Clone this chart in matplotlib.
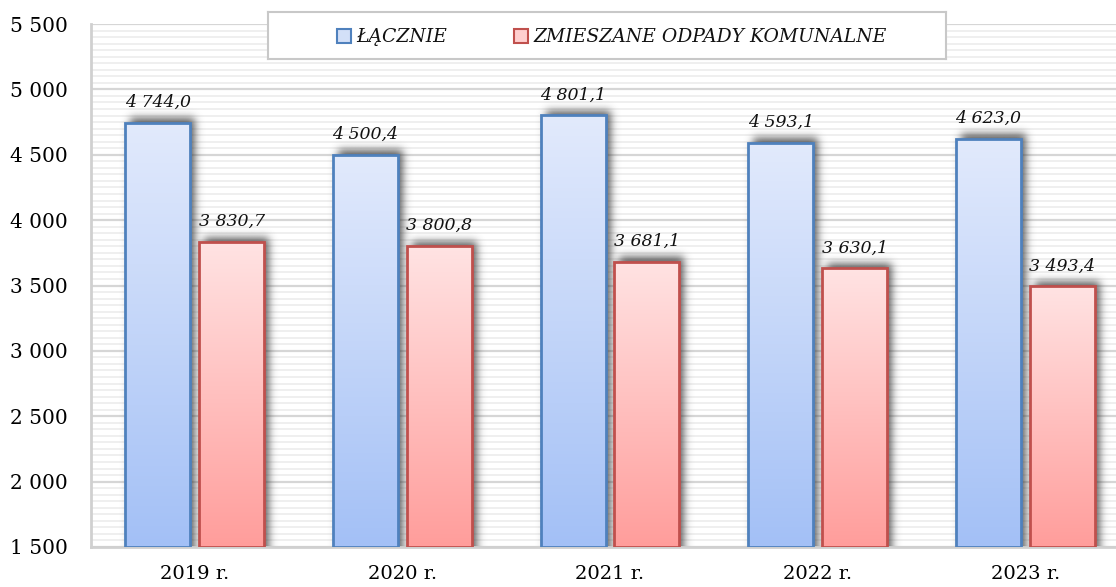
import math
import matplotlib
matplotlib.use('Agg')
import matplotlib.pyplot as plt
import numpy as np
from matplotlib.colors import LinearSegmentedColormap
from matplotlib.patches import Rectangle
from matplotlib.ticker import MultipleLocator

years = ['2019 r.', '2020 r.', '2021 r.', '2022 r.', '2023 r.']
total = [4744.0, 4500.4, 4801.1, 4593.1, 4623.0]
mixed = [3830.7, 3800.8, 3681.1, 3630.1, 3493.4]
series_names = ['ŁĄCZNIE', 'ZMIESZANE ODPADY KOMUNALNE']

y_min, y_max = 1500, 5500
bar_w = 0.313
offset = 0.178

styles = [
    {'top': '#e2eafc', 'bottom': '#a3c0f6', 'edge': '#4f81bd', 'box': '#d3e0f8'},
    {'top': '#ffe3e3', 'bottom': '#ff9d9b', 'edge': '#c0504d', 'box': '#ffcfcf'},
]


def fmt(v, dec=1):
    s = f'{v:,.{dec}f}'
    return s.replace(',', ' ').replace('.', ',')


erf = np.vectorize(math.erf)

fig = plt.figure(figsize=(11.16, 5.87), dpi=100)
ax = fig.add_axes([91 / 1116, 1 - 547 / 587, 1038 / 1116, 523 / 587])
serif = 'DejaVu Serif'

# size of one pixel in data units
px_x = 1 / 207.6
px_y = (y_max - y_min) / 523

x = np.arange(len(years))
for s, (vals, st) in enumerate(zip([total, mixed], styles)):
    cmap = LinearSegmentedColormap.from_list('g%d' % s, [st['bottom'], st['top']])
    grad = np.linspace(1, 0, 256).reshape(-1, 1)
    for i, v in enumerate(vals):
        cx = x[i] + (-offset if s == 0 else offset)
        x0, x1 = cx - bar_w / 2, cx + bar_w / 2

        # blurred drop shadow, shifted right and up
        sx0, sx1 = x0 + 5 * px_x, x1 + 5 * px_x
        stop = v + 5 * px_y
        pad = 22
        xs = np.linspace(sx0 - pad * px_x, sx1 + pad * px_x, 160)
        ys = np.linspace(y_min, stop + pad * px_y, 240)
        sig_x, sig_y = 6 * px_x, 6 * px_y
        fx = 0.5 * (erf((xs - sx0) / sig_x) - erf((xs - sx1) / sig_x))
        fy = 0.5 * (1 - erf((ys - stop) / sig_y))
        alpha = 0.8 * np.outer(fy[::-1], fx)
        rgba = np.zeros(alpha.shape + (4,))
        rgba[..., :3] = 0.2
        rgba[..., 3] = alpha
        ax.imshow(rgba, extent=[xs[0], xs[-1], y_min, ys[-1]], aspect='auto',
                  zorder=2, interpolation='bilinear')

        im = ax.imshow(grad, extent=[x0, x1, y_min, v], aspect='auto',
                       cmap=cmap, zorder=3, interpolation='bicubic')
        rect = Rectangle((x0, y_min), bar_w, v - y_min, facecolor='none',
                         edgecolor=st['edge'], linewidth=2, zorder=4)
        ax.add_patch(rect)
        im.set_clip_path(rect)
        ax.annotate(fmt(v), (cx, v), xytext=(0, 11.5), textcoords='offset points',
                    ha='center', va='baseline', fontsize=12.5, style='italic',
                    family=serif, color='#111111', zorder=5)

ax.set_xlim(-0.5, len(years) - 0.5)
ax.set_ylim(y_min, y_max)
ax.set_xticks(x)
ax.set_xticklabels(years, fontsize=14, family=serif)
ax.yaxis.set_minor_locator(MultipleLocator(50))
yt = np.arange(y_min, y_max + 1, 500)
ax.set_yticks(yt)
ax.set_yticklabels([fmt(v, 0) for v in yt], fontsize=14.5, family=serif)
ax.tick_params(axis='both', which='both', length=0)
ax.tick_params(axis='y', pad=16.5)
ax.tick_params(axis='x', pad=13)

ax.grid(axis='y', which='minor', color='#eeeeee', linewidth=1.3, zorder=0)
ax.grid(axis='y', which='major', color='#d6d6d6', linewidth=1.6, zorder=0)
ax.set_axisbelow(True)
for side in ['top', 'right']:
    ax.spines[side].set_visible(False)
for side in ['left', 'bottom']:
    ax.spines[side].set_color('#d0d0d0')
    ax.spines[side].set_linewidth(2)

# legend box laid out in pixel units
lg = fig.add_axes([268 / 1116, 1 - 59 / 587, 678 / 1116, 47 / 587], zorder=10)
lg.set_xlim(0, 678)
lg.set_ylim(0, 47)
lg.set_xticks([])
lg.set_yticks([])
lg.set_facecolor('white')
for sp in lg.spines.values():
    sp.set_color('#c8c8c8')
    sp.set_linewidth(1.5)
for name, st, xpos in zip(series_names, styles, [69, 246]):
    lg.add_patch(Rectangle((xpos, 16.5), 14, 14, facecolor=st['box'],
                           edgecolor=st['edge'], linewidth=1.5))
    lg.text(xpos + 19, 16.7, name, ha='left', va='baseline', fontsize=13.5,
            style='italic', family=serif, color='#111111')

fig.savefig('out.png', dpi=100)
